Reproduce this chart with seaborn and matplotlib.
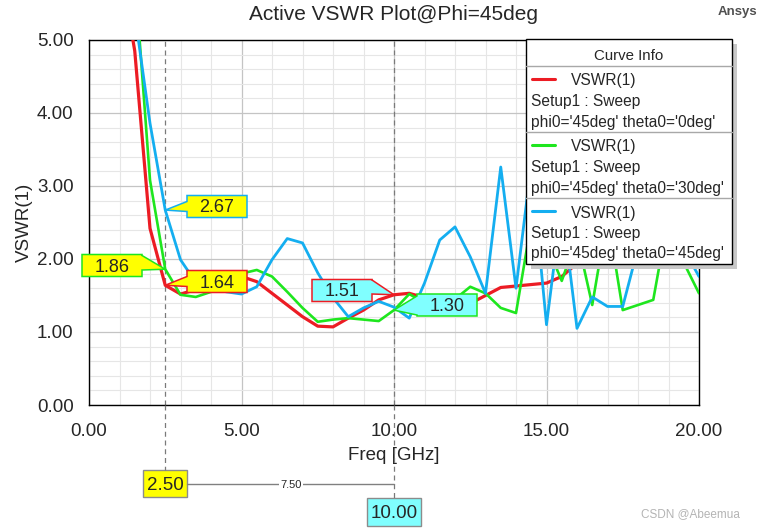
import pandas as pd
import seaborn as sns
import matplotlib.pyplot as plt
from matplotlib.patches import Rectangle, Polygon
from matplotlib.lines import Line2D
from matplotlib.ticker import MultipleLocator, FormatStrFormatter

# sweep points (GHz) and VSWR of the three scan angles
freq = [0.0, 0.5, 1.0, 1.5, 2.0, 2.5, 3.0, 3.5, 4.0, 4.5,
        5.0, 5.5, 6.0, 6.5, 7.0, 7.5, 8.0, 8.5, 9.0, 9.5,
        10.0, 10.5, 11.0, 11.5, 12.0, 12.5, 13.0, 13.5, 14.0, 14.5,
        15.0, 15.5, 16.0, 16.5, 17.0, 17.5, 18.0, 18.5, 19.0, 19.5, 20.0]
vswr_t0 = [25.0, 14.0, 6.1, 4.85, 2.42, 1.64, 1.52, 1.58, 1.66, 1.72,
           1.76, 1.69, 1.53, 1.37, 1.21, 1.08, 1.07, 1.19, 1.30, 1.44,
           1.51, 1.53, 1.47, 1.42, 1.40, 1.39, 1.50, 1.61, 1.63, 1.65,
           1.67, 1.76, 1.94, 2.20, 2.50, 2.90, 3.60, 5.15, 4.00, 3.10, 2.60]
vswr_t30 = [28.0, 16.0, 8.0, 5.9, 3.08, 1.86, 1.51, 1.48, 1.55, 1.65,
            1.80, 1.85, 1.76, 1.55, 1.33, 1.14, 1.17, 1.19, 1.17, 1.15,
            1.30, 1.52, 1.40, 1.35, 1.45, 1.62, 1.53, 1.33, 1.26, 2.50,
            2.20, 1.70, 2.30, 1.37, 2.60, 1.30, 1.37, 1.44, 2.60, 1.95, 1.53]
vswr_t45 = [30.0, 18.0, 9.0, 5.36, 3.86, 2.67, 1.99, 1.68, 1.60, 1.55,
            1.52, 1.62, 1.99, 2.28, 2.22, 1.81, 1.47, 1.21, 1.33, 1.42,
            1.34, 1.19, 1.67, 2.26, 2.44, 2.03, 1.53, 3.26, 1.60, 3.30,
            1.10, 2.75, 1.05, 1.48, 1.35, 1.35, 2.15, 2.50, 2.30, 2.14, 1.76]

curve_names = ["theta0='0deg'", "theta0='30deg'", "theta0='45deg'"]
curve_colors = ["#ec1c24", "#1ee61e", "#14aef0"]
m1_freq = 2.5
m2_freq = 10.0

df = pd.concat([
    pd.DataFrame({"freq": freq, "vswr": v, "curve": n})
    for v, n in zip([vswr_t0, vswr_t30, vswr_t45], curve_names)
])

sns.set_style("white")
plt.rcParams["font.family"] = ["Liberation Sans", "DejaVu Sans"]

W, H = 763, 529
fig = plt.figure(figsize=(W / 100, H / 100), dpi=100)
ax = fig.add_axes([89 / W, 1 - 405 / H, 610 / W, 365 / H])


def fx(x):
    return x / W


def fy(y):
    return 1 - y / H


def to_px(x, y):
    dx, dy = ax.transData.transform((x, y))
    return dx, H - dy


sns.lineplot(data=df, x="freq", y="vswr", hue="curve", palette=curve_colors,
             hue_order=curve_names, ax=ax, legend=False, linewidth=2, zorder=3)
for ln, lw in zip(ax.lines, [2.3, 1.9, 2.0]):
    ln.set_linewidth(lw)

ax.set_xlim(0, 20)
ax.set_ylim(0, 5)
ax.xaxis.set_major_locator(MultipleLocator(5))
ax.xaxis.set_minor_locator(MultipleLocator(1))
ax.yaxis.set_major_locator(MultipleLocator(1))
ax.yaxis.set_minor_locator(MultipleLocator(0.2))
ax.xaxis.set_major_formatter(FormatStrFormatter("%.2f"))
ax.yaxis.set_major_formatter(FormatStrFormatter("%.2f"))
ax.set_axisbelow(True)
ax.grid(which="major", color="#c4c4c4", linewidth=0.9)
ax.grid(which="minor", color="#e6e6e6", linewidth=0.8)
ax.tick_params(which="major", direction="out", length=7, width=1,
               labelsize=13.5, color="black", pad=4)
ax.tick_params(which="minor", direction="out", length=4, width=1, color="black")
ax.tick_params(axis="x", pad=6)
for s in ax.spines.values():
    s.set_color("black")
    s.set_linewidth(1)

ax.set_xlabel("Freq [GHz]", fontsize=13.5)
ax.set_ylabel("VSWR(1)", fontsize=13.5)
ax.xaxis.set_label_coords(0.5, -0.115)
ax.yaxis.set_label_coords(-0.092, 0.5)

fig.text(fx(393), fy(15), "Active VSWR Plot@Phi=45deg", ha="center",
         va="center", fontsize=15)
fig.text(fx(737), fy(12), "Ansys", ha="center", va="center", fontsize=9.5,
         fontweight="bold", color="#505050")
fig.text(fx(740), fy(514), "CSDN @Abeemua", ha="right", va="center",
         fontsize=8.5, color="#b4b4b4")

# marker lines
for mf, box_top in [(m1_freq, 470), (m2_freq, 498)]:
    ax.axvline(mf, color="#7a7a7a", linestyle=(0, (4, 3)), linewidth=0.9, zorder=2)
    mx, _ = to_px(mf, 0)
    fig.add_artist(Line2D([fx(mx), fx(mx)], [fy(405), fy(box_top)],
                          transform=fig.transFigure, color="#7a7a7a",
                          linestyle=(0, (4, 3)), linewidth=0.9))


def callout(xd, yd, cx, cy, base, text, fc, ec, side):
    px, py = to_px(xd, yd)
    w, h = 60, 22
    L, R, T, B = cx - w / 2, cx + w / 2, cy - h / 2, cy + h / 2
    b1, b2 = base
    if side == "left":
        pts = [(L, T), (R, T), (R, B), (L, B), (L, b2), (px, py), (L, b1)]
    else:
        pts = [(L, T), (R, T), (R, b1), (px, py), (R, b2), (R, B), (L, B)]
    fig.add_artist(Polygon([(fx(a), fy(b)) for a, b in pts], closed=True,
                           transform=fig.transFigure, fc=fc, ec=ec, lw=1.1,
                           zorder=5))
    fig.text(fx(cx), fy(cy + 1.5), text, ha="center", va="center",
             fontsize=13, zorder=6)


i1 = freq.index(m1_freq)
i2 = freq.index(m2_freq)
callout(m1_freq, vswr_t45[i1], 217, 206.5, (201.5, 211.5),
        "%.2f" % vswr_t45[i1], "#ffff00", curve_colors[2], "left")
callout(m1_freq, vswr_t0[i1], 217, 281.5, (276.5, 286.5),
        "%.2f" % vswr_t0[i1], "#ffff00", curve_colors[0], "left")
callout(m1_freq, vswr_t30[i1], 112, 265.5, (255.5, 270),
        "%.2f" % vswr_t30[i1], "#ffff00", curve_colors[1], "right")
callout(m2_freq, vswr_t0[i2], 342, 290.5, (280, 294),
        "%.2f" % vswr_t0[i2], "#80ffff", curve_colors[0], "right")
callout(m2_freq, vswr_t30[i2], 447, 305, (296, 315),
        "%.2f" % vswr_t30[i2], "#80ffff", curve_colors[1], "left")

# delta markers under the axis
x1, _ = to_px(m1_freq, 0)
x2, _ = to_px(m2_freq, 0)
fig.add_artist(Line2D([fx(x1 + 22), fx(x2)], [fy(484), fy(484)],
                      transform=fig.transFigure, color="#808080", lw=1))
fig.text(fx((x1 + 22 + x2) / 2), fy(485), "%.2f" % (m2_freq - m1_freq),
         ha="center", va="center", fontsize=8,
         bbox=dict(fc="white", ec="none", pad=1))
for mx, cy, w, h, fc in [(x1, 483.5, 44, 27, "#ffff00"), (x2, 512, 54, 28, "#80ffff")]:
    fig.add_artist(Rectangle((fx(mx - w / 2), fy(cy + h / 2)), w / W, h / H,
                             transform=fig.transFigure, fc=fc, ec="#8c8c8c", lw=1))
fig.text(fx(x1), fy(485), "%.2f" % m1_freq, ha="center", va="center", fontsize=13.5)
fig.text(fx(x2), fy(513.5), "%.2f" % m2_freq, ha="center", va="center", fontsize=13.5)

# curve info box
lx0, lx1, ly0, ly1 = 526, 732, 39, 264
fig.add_artist(Rectangle((fx(lx0 + 5), fy(ly1 + 5)), (lx1 - lx0) / W, (ly1 - ly0) / H,
                         transform=fig.transFigure, fc="#c8c8c8", ec="none"))
fig.add_artist(Rectangle((fx(lx0), fy(ly1)), (lx1 - lx0) / W, (ly1 - ly0) / H,
                         transform=fig.transFigure, fc="white", ec="black", lw=1))
fig.text(fx(629), fy(55.5), "Curve Info", ha="center", va="center", fontsize=10.8)
for k, (name, col) in enumerate(zip(curve_names, curve_colors)):
    top = 66 + 66 * k
    fig.add_artist(Line2D([fx(lx0), fx(lx1)], [fy(top), fy(top)],
                          transform=fig.transFigure, color="#a8a8a8", lw=1))
    fig.add_artist(Line2D([fx(532), fx(555)], [fy(top + 12.5), fy(top + 12.5)],
                          transform=fig.transFigure, color=col, lw=2.2))
    fig.text(fx(571), fy(top + 15), "VSWR(1)", ha="left", va="center", fontsize=11.2)
    fig.text(fx(531), fy(top + 35.5), "Setup1 : Sweep", ha="left", va="center",
             fontsize=11.2)
    fig.text(fx(531), fy(top + 56), "phi0='45deg' " + name, ha="left",
             va="center", fontsize=11.2)

plt.savefig("out.png", dpi=100)
